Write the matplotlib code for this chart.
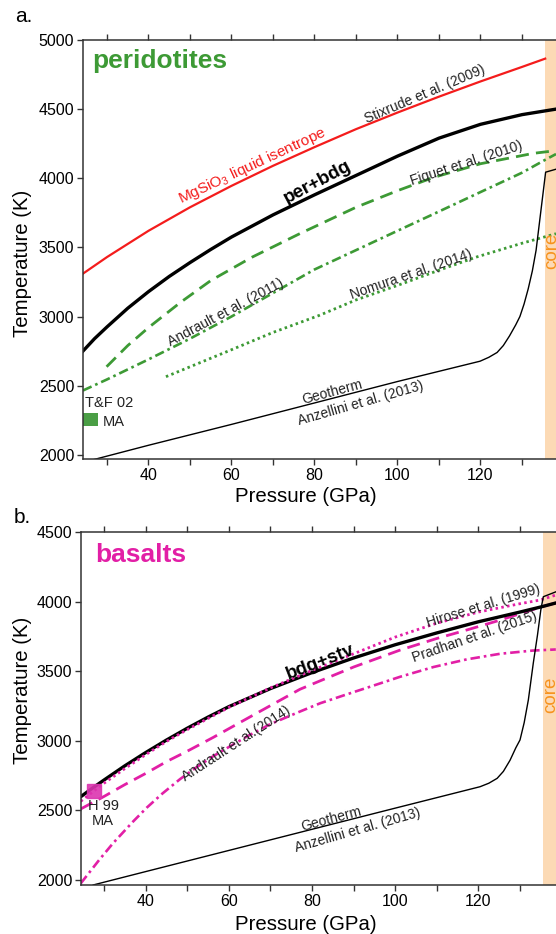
import numpy as np
import matplotlib
matplotlib.use("Agg")
import matplotlib.pyplot as plt

plt.rcParams['font.family'] = ['Liberation Sans', 'DejaVu Sans']
plt.rcParams['mathtext.fontset'] = 'custom'
plt.rcParams['mathtext.rm'] = 'Liberation Sans'

# ---------------- panel a: peridotites ----------------
a_red_p = [24.2, 30, 40, 50, 60, 70, 80, 90, 100, 110, 120, 130, 135.6]
a_red_t = [3310, 3430, 3620, 3790, 3945, 4090, 4225, 4355, 4475, 4590, 4700, 4805, 4865]

a_solidus_p = [24.2, 27, 30, 35, 40, 45, 50, 55, 60, 70, 80, 90, 100, 110, 120, 130, 138.2]
a_solidus_t = [2750, 2840, 2925, 3060, 3180, 3290, 3390, 3485, 3575, 3735, 3880, 4020, 4160,
               4290, 4390, 4460, 4500]

a_fiquet_p = [29.9, 35, 40, 47.6, 55, 65, 76.5, 90, 100, 108.6, 120, 132.7, 138.2]
a_fiquet_t = [2637, 2790, 2920, 3100, 3260, 3430, 3600, 3790, 3910, 4005, 4105, 4180, 4200]

a_andrault_p = [24.2, 30, 40, 50, 60, 70, 80, 90, 100, 108.6, 120, 130, 136, 138.2]
a_andrault_t = [2465, 2545, 2690, 2840, 3000, 3170, 3340, 3480, 3620, 3740, 3900, 4040, 4140, 4175]

a_nomura_p = [44.2, 60, 70, 81.3, 90, 100, 110, 119.1, 130, 138.2]
a_nomura_t = [2565, 2760, 2885, 3010, 3120, 3225, 3335, 3431, 3530, 3599]

a_geo_p = [26.6, 40, 60, 80, 100, 119.9, 122, 124, 125.5, 127, 128.5, 129.5, 130.5, 131.5,
           132.5, 133.4, 134.5, 135.7, 138.5]
a_geo_t = [1964, 2069, 2220, 2375, 2530, 2677, 2705, 2740, 2790, 2860, 2940, 3000, 3090, 3200,
           3330, 3479, 3750, 4044, 4068]

tf02_p = [24.2, 27.8]
tf02_t_lo = [2210, 2210]
tf02_t_hi = [2305, 2305]

# ---------------- panel b: basalts ----------------
b_solidus_p = [24.4, 27, 30, 35, 40, 45, 50, 55, 60, 70, 80, 90, 100, 110, 120, 130, 135.2, 138.6]
b_solidus_t = [2598, 2655, 2718, 2820, 2915, 3005, 3090, 3170, 3245, 3375, 3490, 3595, 3690,
               3775, 3855, 3925, 3963, 3990]

b_hirose_p = [24.4, 27.6, 30, 35, 40, 45, 50, 55, 60, 70, 80, 90, 100, 110, 120, 130, 134.8, 138.6]
b_hirose_t = [2565, 2640, 2695, 2800, 2900, 2995, 3080, 3160, 3240, 3380, 3505, 3625, 3745,
              3845, 3925, 3985, 4011, 4047]

b_pradhan_p = [24.4, 30, 35, 40.3, 45, 50, 56.3, 65, 77.1, 81.9, 90, 101.2, 110, 117.2, 125,
               135.2, 138.6]
b_pradhan_t = [2510, 2600, 2685, 2770, 2850, 2925, 3025, 3170, 3370, 3430, 3530, 3652, 3735,
               3796, 3865, 3963, 3990]

b_andrault_p = [24.4, 29, 32.2, 37, 40.3, 44, 48.3, 52, 56.3, 60, 64.3, 70, 77.1, 82, 88, 93.1,
                101.2, 109.2, 117.2, 125.2, 133, 138.6]
b_andrault_t = [1975, 2150, 2265, 2420, 2520, 2620, 2725, 2805, 2890, 2955, 3030, 3120, 3210,
                3270, 3330, 3380, 3460, 3530, 3585, 3625, 3648, 3656]

b_geo_p = [27.4, 40, 60, 80, 100, 120.4, 122.5, 124.5, 126, 127.6, 129, 130, 131, 132, 133.2,
           134.2, 135, 135.6, 138.6]
b_geo_t = [1964, 2060, 2212, 2364, 2516, 2670, 2695, 2730, 2780, 2860, 2950, 3006, 3130, 3293,
           3560, 3760, 3940, 4035, 4070]

h99_p = [27.6]
h99_t = [2642]

core_start = 135.6

GREEN = '#3d9a35'
RED = '#f41c1c'
MAG = '#e21fa6'
ORANGE = '#f7931e'
CORE = '#fcdab5'
SPINE = '#333333'

fig = plt.figure(figsize=(5.56, 9.34), dpi=100)
ax_a = fig.add_axes([0.1493, 0.5086, 0.8507, 0.4486])
ax_b = fig.add_axes([0.1457, 0.0525, 0.8543, 0.3779])


def style_axis(ax, xlim, ylim, yticks):
    ax.set_xlim(*xlim)
    ax.set_ylim(*ylim)
    ax.set_xticks([40, 60, 80, 100, 120])
    ax.set_xticks(np.arange(30, 140, 10), minor=True)
    ax.set_yticks(yticks)
    ax.tick_params(which='both', direction='out', length=4.3, width=1.0,
                   color=SPINE, top=True, labelsize=11.5, pad=2)
    ax.tick_params(axis='x', which='minor', labelbottom=False)
    for s in ['left', 'bottom', 'top']:
        ax.spines[s].set_color(SPINE)
        ax.spines[s].set_linewidth(1.1)
    ax.spines['right'].set_visible(False)
    ax.axvspan(core_start, xlim[1] + 5, color=CORE, lw=0, zorder=0)
    ax.set_xlabel('Pressure (GPa)', fontsize=14.7)
    ax.set_ylabel('Temperature (K)', fontsize=14.7)


# ---- panel a ----
ax = ax_a
style_axis(ax, (24.22, 138.2), (1970, 5000), np.arange(2000, 5001, 500))
ax.plot(a_red_p, a_red_t, color=RED, lw=1.6)
ax.plot(a_solidus_p, a_solidus_t, color='black', lw=2.4)
ax.plot(a_fiquet_p, a_fiquet_t, color=GREEN, lw=2.0, ls=(0, (4.7, 2.6)))
ax.plot(a_andrault_p, a_andrault_t, color=GREEN, lw=1.9, ls=(0, (3.6, 1.5, 1.0, 1.5)))
ax.plot(a_nomura_p, a_nomura_t, color=GREEN, lw=2.0, ls=(0, (0.9, 1.2)))
ax.plot(a_geo_p, a_geo_t, color='black', lw=1.0)
ax.fill_between(tf02_p, tf02_t_lo, tf02_t_hi, color='#4a9e45', lw=0)

ax.text(0.02, 0.978, 'peridotites', transform=ax.transAxes, color=GREEN,
        fontsize=19, fontweight='bold', va='top', ha='left')
ax.text(64.9, 4087, 'MgSiO$_\\mathrm{3}$ liquid isentrope', color=RED, fontsize=11,
        rotation=25, ha='center', va='center')
ax.text(106.6, 4610, 'Stixrude et al. (2009)', fontsize=10, rotation=23,
        ha='center', va='center', color='#222222')
ax.text(80.7, 3972, 'per+bdg', fontsize=13.5, fontweight='bold', rotation=28,
        ha='center', va='center')
ax.text(116.7, 4105, 'Fiquet et al. (2010)', fontsize=10, rotation=18,
        ha='center', va='center', color='#222222')
ax.text(58.6, 3028, 'Andrault et al. (2011)', fontsize=10, rotation=28,
        ha='center', va='center', color='#222222')
ax.text(103.2, 3305, 'Nomura et al. (2014)', fontsize=10, rotation=19,
        ha='center', va='center', color='#222222')
ax.text(84.3, 2451, 'Geotherm', fontsize=10, rotation=15,
        ha='center', va='center', color='#222222')
ax.text(91.0, 2373, 'Anzellini et al. (2013)', fontsize=10, rotation=16,
        ha='center', va='center', color='#222222')
ax.text(24.8, 2372, 'T&F 02', fontsize=10.5, ha='left', va='center', color='#222222')
ax.text(29.0, 2237, 'MA', fontsize=10.5, ha='left', va='center', color='#222222')
ax.text(137.1, 3472, 'core', fontsize=13.5, rotation=90, color=ORANGE,
        ha='center', va='center')
ax.xaxis.set_label_coords(0.471, -0.066)
ax.yaxis.set_label_coords(-0.108, 0.468)
fig.text(0.027, 0.982, 'a.', fontsize=15, ha='left', va='center')

# ---- panel b ----
ax = ax_b
style_axis(ax, (24.47, 138.65), (1964, 4500), np.arange(2000, 4501, 500))
ax.plot(b_andrault_p, b_andrault_t, color=MAG, lw=1.9, ls=(0, (3.6, 1.5, 1.0, 1.5)))
ax.plot(b_pradhan_p, b_pradhan_t, color=MAG, lw=2.0, ls=(0, (4.7, 2.6)))
ax.plot(b_solidus_p, b_solidus_t, color='black', lw=2.4)
ax.plot(b_hirose_p, b_hirose_t, color=MAG, lw=2.0, ls=(0, (0.9, 1.2)))
ax.plot(b_geo_p, b_geo_t, color='black', lw=1.0)
ax.plot(h99_p, h99_t, marker='s', ms=9.5, color='#dc35b0', alpha=0.9,
        ls='none', mec='#dc35b0')

ax.text(0.029, 0.969, 'basalts', transform=ax.transAxes, color=MAG,
        fontsize=19, fontweight='bold', va='top', ha='left')
ax.text(82.1, 3568, 'bdg+stv', fontsize=13.5, fontweight='bold', rotation=21,
        ha='center', va='center')
ax.text(121.2, 3970, 'Hirose et al. (1999)', fontsize=10, rotation=17,
        ha='center', va='center', color='#222222')
ax.text(119.2, 3742, 'Pradhan et al. (2015)', fontsize=10, rotation=19,
        ha='center', va='center', color='#222222')
ax.text(61.7, 2981, 'Andrault et al.(2014)', fontsize=10, rotation=33,
        ha='center', va='center', color='#222222')
ax.text(84.5, 2437, 'Geotherm', fontsize=10, rotation=15,
        ha='center', va='center', color='#222222')
ax.text(90.9, 2359, 'Anzellini et al. (2013)', fontsize=10, rotation=16,
        ha='center', va='center', color='#222222')
ax.text(29.8, 2480, 'H 99\nMA', fontsize=10.5, ha='center', va='center',
        color='#222222', linespacing=1.1)
ax.text(137.3, 3329, 'core', fontsize=13.5, rotation=90, color=ORANGE,
        ha='center', va='center')
ax.xaxis.set_label_coords(0.473, -0.085)
ax.yaxis.set_label_coords(-0.103, 0.552)
fig.text(0.025, 0.446, 'b.', fontsize=15, ha='left', va='center')

fig.savefig('out.png', dpi=100)
print("Saved out.png")
